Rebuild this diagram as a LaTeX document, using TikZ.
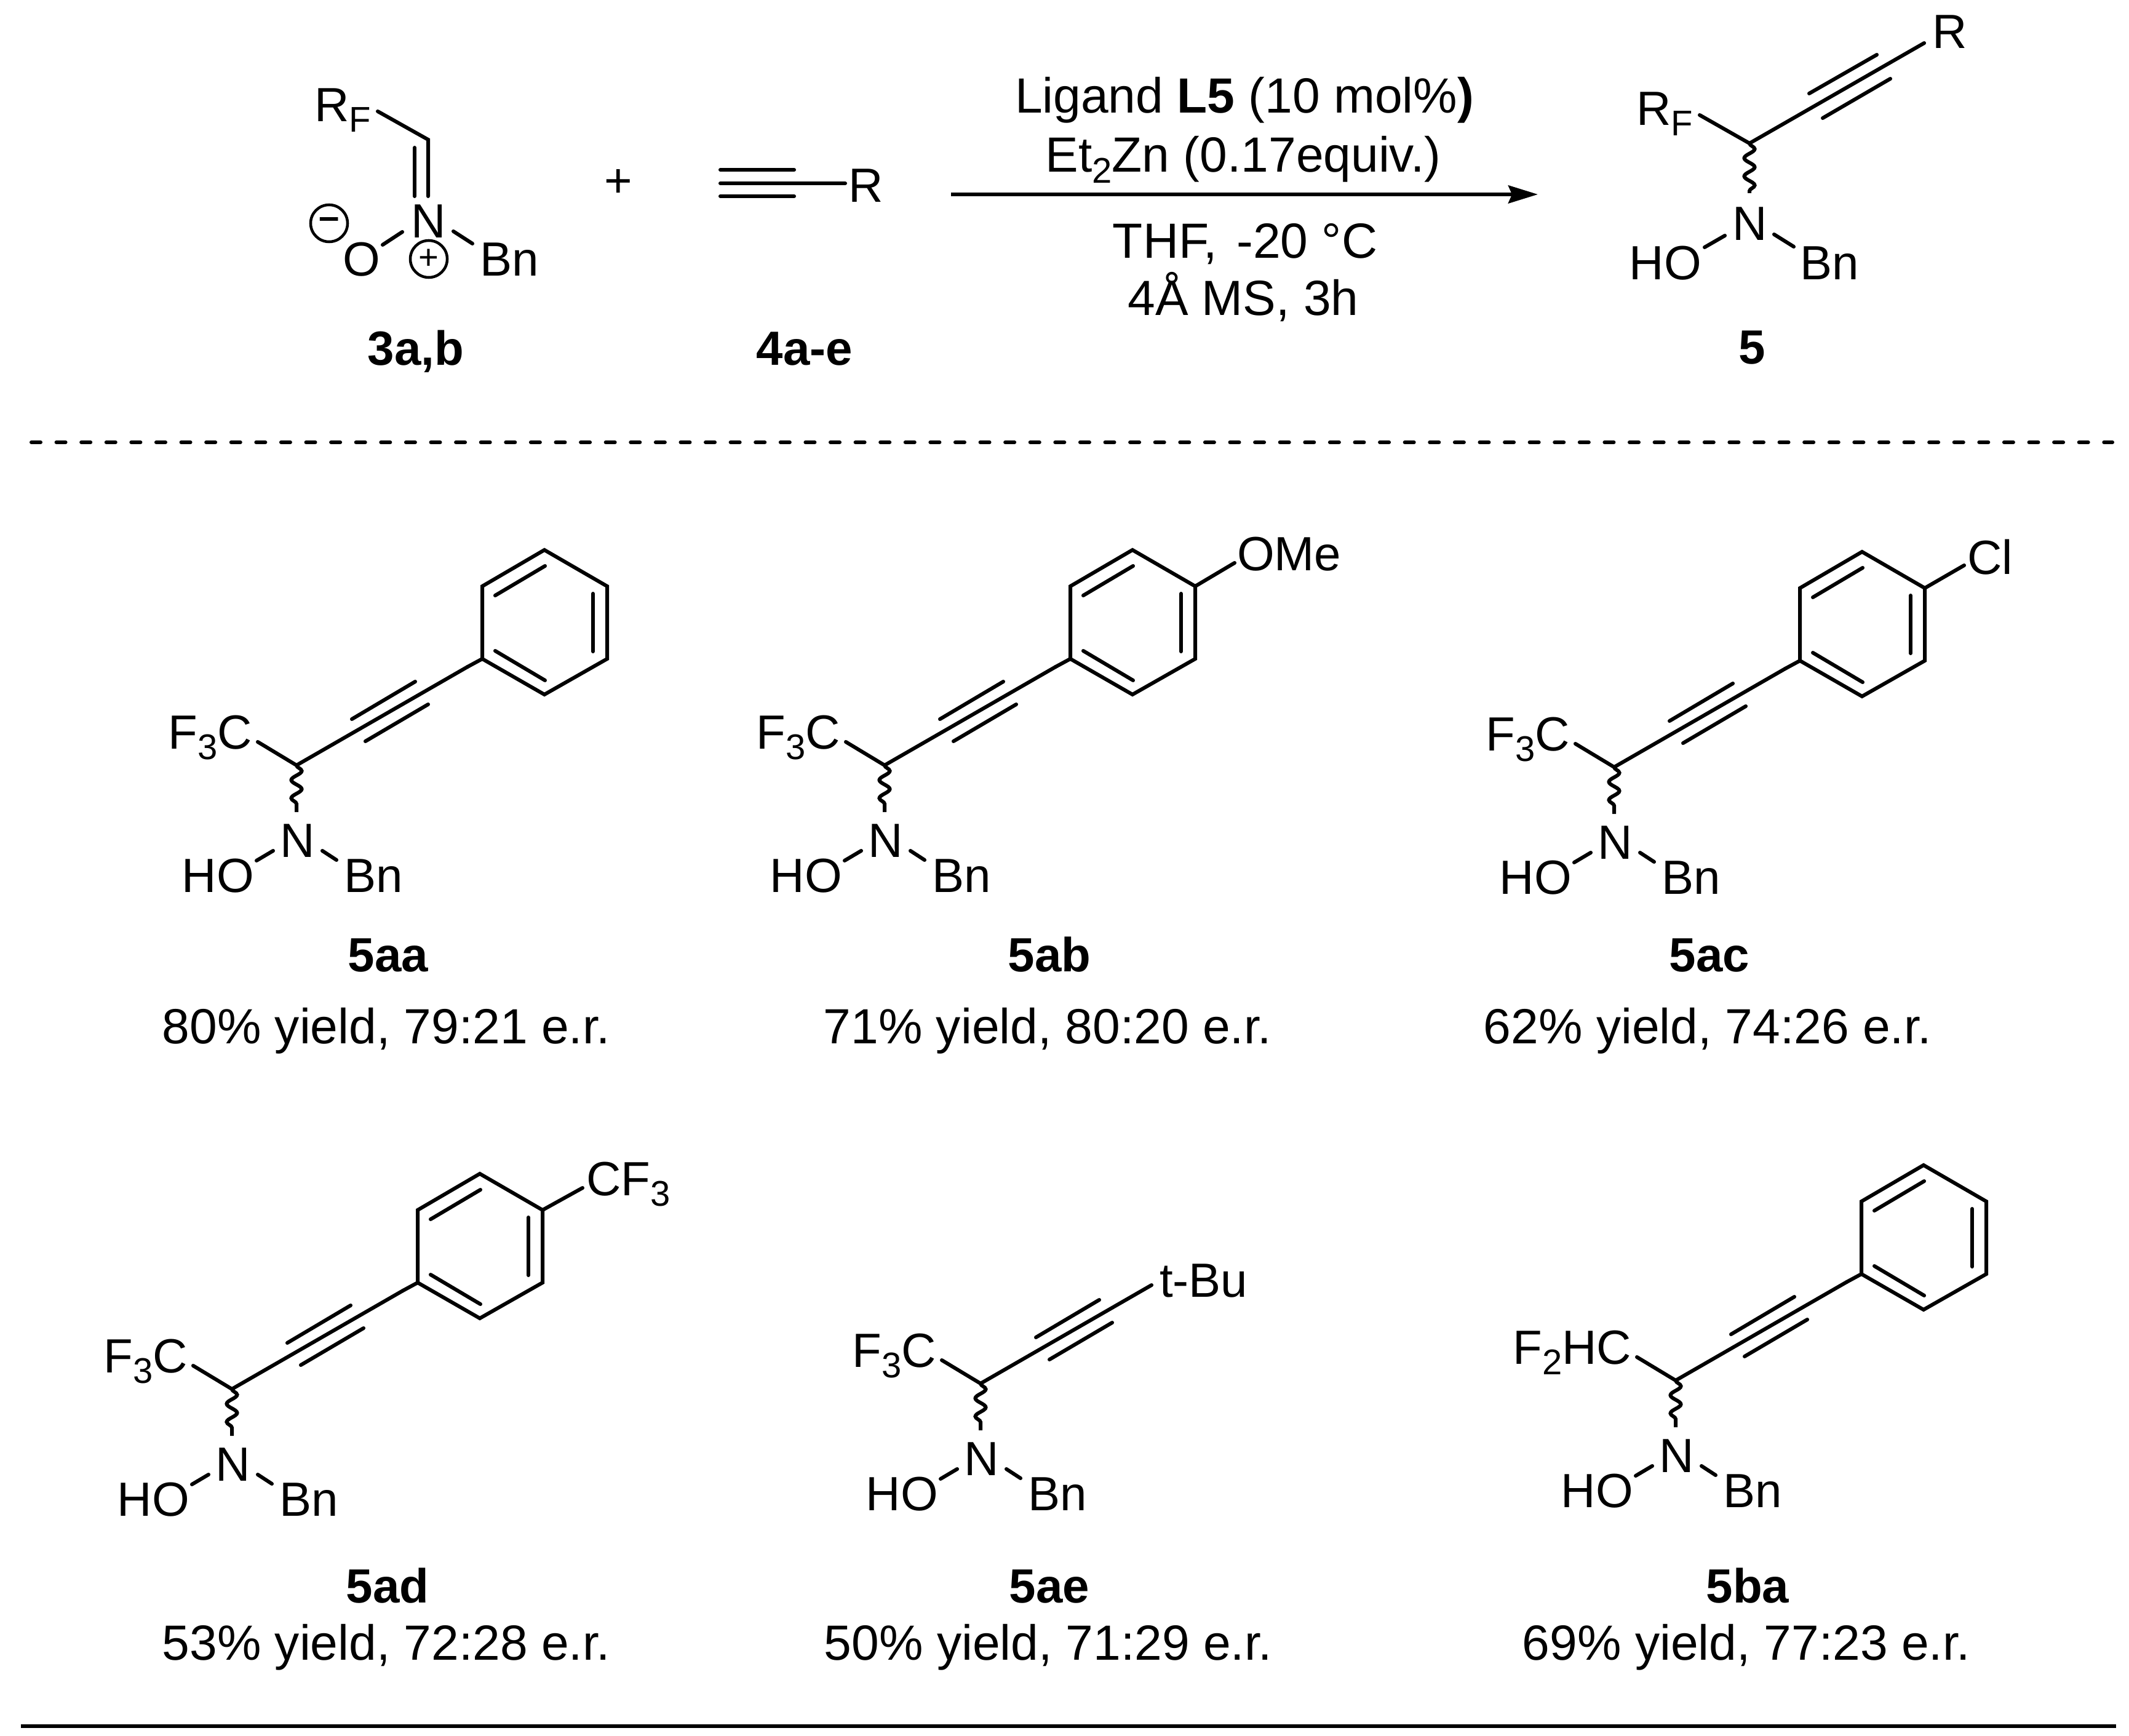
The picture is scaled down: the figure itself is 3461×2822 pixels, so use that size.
\documentclass[tikz,border=0pt]{standalone}
\usepackage{fontspec}
\setmainfont{Liberation Sans}
\usetikzlibrary{arrows.meta,decorations.pathmorphing}
\tikzset{
    x=0.01cm,y=-0.01cm,
    bond/.style={line width=0.06cm,line cap=round},
    wavy/.style={line width=0.06cm,decorate,
        decoration={snake,amplitude=0.085cm,segment length=0.295cm}},
    atom/.style={inner sep=0pt,outer sep=0pt,font=\fontsize{22.2}{26}\selectfont},
    compound/.style={atom,anchor=base,font=\fontsize{22.2}{26}\selectfont\bfseries},
    result/.style={atom,anchor=base,font=\fontsize{22.85}{26}\selectfont},
    charge/.style={draw,circle,line width=0.045cm,inner sep=0pt,minimum size=0.6cm}
}
\newcommand{\lowsub}[1]{\raisebox{-0.17cm}{\fontsize{16.5}{18}\selectfont #1}}
% the part every product shares, #5 is the free end of the alkyne
\newcommand{\amine}[5]{
    \begin{scope}[shift={(#2,#3)}]
    \coordinate (#1c) at (0,0);
    \coordinate (#1a) at (#5);
    \node[atom,anchor=base east] (#1rf) at (-72,-27){#4};
    \node[atom,anchor=base] (#1n) at (2,149){N};
    \node[atom,anchor=base east] (#1ho) at (-69,206){HO};
    \node[atom,anchor=base west] (#1bn) at (77,206){Bn};
    \coordinate (#1rfb) at (-63,-38);
    \coordinate (#1nt) at (0,76);
    \coordinate (#1nl) at (-38,139);
    \coordinate (#1nr) at (42,139);
    \coordinate (#1hob) at (-65,155);
    \coordinate (#1bnb) at (65,154);
    \coordinate (#1ua) at (90,-75);
    \coordinate (#1ub) at (193,-136);
    \coordinate (#1la) at (112,-39);
    \coordinate (#1lb) at (214,-99);
    \end{scope}
    \draw[bond] (#1rfb) -- (#1c) -- (#1a);
    \draw[bond] (#1ua) -- (#1ub);
    \draw[bond] (#1la) -- (#1lb);
    \draw[wavy] (#1c) -- (#1nt);
    \draw[bond] (#1nl) -- (#1hob);
    \draw[bond] (#1nr) -- (#1bnb);
}
% ring hanging on the end of the alkyne
\newcommand{\phenyl}[1]{
    \begin{scope}[shift={(#1c)}]
    \foreach \vx/\vy [count=\vi] in {302/-173,302/-291,403/-350,505/-291,505/-173,403/-115}
        \coordinate (#1r\vi) at (\vx,\vy);
    \foreach \vx/\vy [count=\vi] in {323/-276,404/-324,482/-279,482/-185,404/-138,323/-186}
        \coordinate (#1d\vi) at (\vx,\vy);
    \end{scope}
    \draw[bond] (#1a) -- (#1r1);
    \draw[bond,line join=miter] (#1r1) -- (#1r2) -- (#1r3) -- (#1r4) -- (#1r5) -- (#1r6) -- cycle;
    \draw[bond] (#1d1) -- (#1d2);
    \draw[bond] (#1d3) -- (#1d4);
    \draw[bond] (#1d5) -- (#1d6);
}
\begin{document}
\begin{tikzpicture}
    \useasboundingbox (0,0) rectangle (3461,2822);

    % nitrone
    \node[atom,anchor=base west] (rf) at (511,198){R\lowsub{F}};
    \node[atom,anchor=base] (nit) at (697,387){N};
    \node[atom,anchor=base] (oxy) at (588,449){O};
    \node[atom,anchor=base west] (bn) at (780,449){Bn};
    \node[charge] (minus) at (535,363){\fontsize{17}{18}\selectfont\bfseries --};
    \node[charge] (plus) at (697,421){\fontsize{16}{16}\selectfont +};
    \coordinate (rfb) at (614,181);
    \coordinate (ch) at (696,227);
    \coordinate (chn) at (696,319);
    \coordinate (dba) at (674,240);
    \coordinate (dbb) at (674,319);
    \coordinate (oa) at (654,377);
    \coordinate (ob) at (622,398);
    \coordinate (ba) at (737,376);
    \coordinate (bb) at (768,396);
    \draw[bond] (rfb) -- (ch) -- (chn);
    \draw[bond] (dba) -- (dbb);
    \draw[bond] (oa) -- (ob);
    \draw[bond] (ba) -- (bb);
    \node[compound] (nitlab) at (676,594){3a,b};

    \node[atom] (plussign) at (1005,298){+};

    % alkyne
    \node[atom,anchor=base west] (ralk) at (1379,329){R};
    \coordinate (ta) at (1171,276);
    \coordinate (tb) at (1291,276);
    \coordinate (tc) at (1171,298);
    \coordinate (td) at (1374,298);
    \coordinate (te) at (1171,319);
    \coordinate (tf) at (1291,319);
    \draw[bond] (ta) -- (tb);
    \draw[bond] (tc) -- (td);
    \draw[bond] (te) -- (tf);
    \node[compound] (alklab) at (1308,594){4a-e};

    % conditions
    \coordinate (arra) at (1546,316);
    \coordinate (arrb) at (2500,316);
    \draw[line width=0.06cm,-{Stealth[length=0.48cm,width=0.29cm,inset=0.06cm]}] (arra) -- (arrb);
    \node[result] (cond1) at (2023,184){Ligand \textbf{L5} (10 mol\%\textbf{)}};
    \node[result] (cond2) at (2021,280){Et\lowsub{2}Zn (0.17equiv.)};
    \node[result] (cond3) at (2024,420){THF,\hspace{0.12em} -20 °C};
    \node[result] (cond4) at (2021,513){4Å MS, 3h};

    % general product
    \node[atom,anchor=base west] (grf) at (2660,204){R\lowsub{F}};
    \node[atom,anchor=base west] (gr) at (3141,79){R};
    \node[atom,anchor=base] (gn) at (2845,391){N};
    \node[atom,anchor=base east] (gho) at (2766,455){HO};
    \node[atom,anchor=base west] (gbn) at (2926,455){Bn};
    \coordinate (grfb) at (2763,187);
    \coordinate (gc) at (2844,233);
    \coordinate (gend) at (3128,70);
    \coordinate (gua) at (2941,152);
    \coordinate (gub) at (3051,89);
    \coordinate (gla) at (2963,192);
    \coordinate (glb) at (3073,128);
    \coordinate (gnt) at (2844,314);
    \coordinate (gnl) at (2804,383);
    \coordinate (ghob) at (2771,402);
    \coordinate (gnr) at (2884,381);
    \coordinate (gbnb) at (2916,401);
    \draw[bond] (grfb) -- (gc) -- (gend);
    \draw[bond] (gua) -- (gub);
    \draw[bond] (gla) -- (glb);
    \draw[wavy] (gc) -- (gnt);
    \draw[bond] (gnl) -- (ghob);
    \draw[bond] (gnr) -- (gbnb);
    \node[compound] (glab) at (2848,592){5};

    % separators
    \coordinate (dasha) at (51,719);
    \coordinate (dashb) at (3434,719);
    \draw[line width=0.06cm,line cap=round,dash pattern=on 0.15cm off 0.2557cm] (dasha) -- (dashb);
    \coordinate (rulea) at (34,2806);
    \coordinate (ruleb) at (3440,2806);
    \draw[line width=0.06cm] (rulea) -- (ruleb);

    % products
    \amine{aa}{482}{1244}{F\lowsub{3}C}{278,-160}
    \phenyl{aa}
    \node[compound] (aalab) at (631,1579){5aa};
    \node[result] (aares) at (628,1696){80\% yield, 79:21 e.r.};

    \amine{ab}{1438}{1244}{F\lowsub{3}C}{278,-160}
    \phenyl{ab}
    \node[atom,anchor=base west] (abome) at (2011,927){OMe};
    \coordinate (abob) at (2007,915);
    \draw[bond] (abr4) -- (abob);
    \node[compound] (ablab) at (1706,1579){5ab};
    \node[result] (abres) at (1703,1696){71\% yield, 80:20 e.r.};

    \amine{ac}{2624}{1247}{F\lowsub{3}C}{278,-160}
    \phenyl{ac}
    \node[atom,anchor=base west] (accl) at (3198,933){Cl};
    \coordinate (acclb) at (3193,919);
    \draw[bond] (acr4) -- (acclb);
    \node[compound] (aclab) at (2779,1579){5ac};
    \node[result] (acres) at (2776,1696){62\% yield, 74:26 e.r.};

    \amine{ad}{377}{2258}{F\lowsub{3}C}{278,-160}
    \phenyl{ad}
    \node[atom,anchor=base west] (adcf) at (953,1943){CF\lowsub{3}};
    \coordinate (adcfb) at (947,1931);
    \draw[bond] (adr4) -- (adcfb);
    \node[compound] (adlab) at (630,2605){5ad};
    \node[result] (adres) at (628,2698){53\% yield, 72:28 e.r.};

    \amine{ae}{1594}{2249}{F\lowsub{3}C}{278,-160}
    \node[atom,anchor=base west] (aebu) at (1885,2108){t-Bu};
    \node[compound] (aelab) at (1706,2605){5ae};
    \node[result] (aeres) at (1704,2698){50\% yield, 71:29 e.r.};

    \amine{ba}{2724}{2244}{F\lowsub{2}HC}{278,-160}
    \phenyl{ba}
    \node[compound] (balab) at (2841,2605){5ba};
    \node[result] (bares) at (2839,2698){69\% yield, 77:23 e.r.};
\end{tikzpicture}
\end{document}
